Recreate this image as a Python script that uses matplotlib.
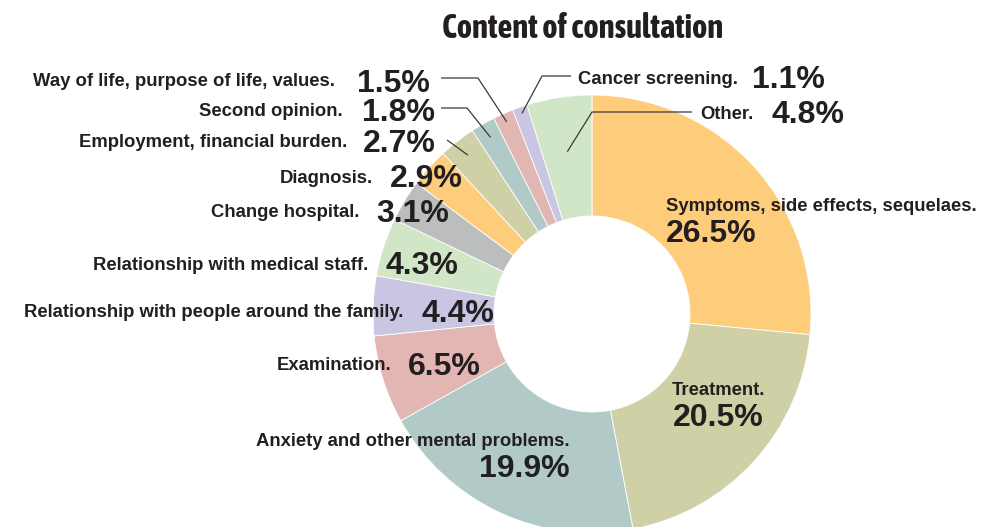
import numpy as np
import matplotlib.pyplot as plt
from matplotlib import font_manager

# Data (share of consultations, %), clockwise from 12 o'clock
categories = [
    'Symptoms, side effects, sequelaes.',
    'Treatment.',
    'Anxiety and other mental problems.',
    'Examination.',
    'Relationship with people around the family.',
    'Relationship with medical staff.',
    'Change hospital.',
    'Diagnosis.',
    'Employment, financial burden.',
    'Second opinion.',
    'Way of life, purpose of life, values.',
    'Cancer screening.',
    'Other.',
]
shares = [26.5, 20.5, 19.9, 6.5, 4.4, 4.3, 3.1, 2.9, 2.7, 1.8, 1.5, 1.1, 4.8]
pct_labels = ['26.5%', '20.5%', '19.9%', '6.5%', '4.4%', '4.3%', '3.1%',
              '2.9%', '2.7%', '1.8%', '1.5%', '1.1%', '4.8%']
colors = ['#FDCD7C', '#CFD0A6', '#B2CAC7', '#E2B6B3', '#C9C5E2', '#D0E6C6',
          '#BCBDBF', '#FDCD7C', '#CFD0A6', '#B2CAC7', '#E2B6B3', '#C9C5E2',
          '#D0E6C6']

TXT = '#231F20'
LABEL_FONT = ['Liberation Sans', 'DejaVu Sans']


def weight_num(w):
    if isinstance(w, (int, float)):
        return w
    return font_manager.weight_dict.get(str(w).lower(), 400)


# the title is set in a condensed bold face; use one if installed with a bold cut
narrow = sorted({f.name for f in font_manager.fontManager.ttflist
                 if ('Narrow' in f.name or 'Condensed' in f.name)
                 and weight_num(f.weight) >= 600})
TITLE_FONT = narrow[:1] + ['Liberation Sans', 'DejaVu Sans']

# Pixel layout (y grows downward)
CX, CY = 592, 314
R_OUT, R_IN = 219, 98

# label layout: (mode, align, label x, label baseline, pct x, pct baseline)
layout = {
    0: ('stack', 'left', 666, 211, 666, 242),
    1: ('stack', 'center', 718, 395, 718, 426),
    2: ('stack', 'right', 570, 446, 570, 477),
    3: ('side', None, 391, 370, 408, 375),
    4: ('side', None, 403, 317, 421, 322),
    5: ('side', None, 368, 270, 386, 274),
    6: ('side', None, 359, 217, 376, 222),
    7: ('side', None, 373, 183, 390, 187),
    8: ('side', None, 347, 147, 363, 152),
    9: ('side', None, 343, 116, 362, 121),
    10: ('side', None, 335, 86, 357, 92),
    11: ('right', None, 578, 84, 752, 88),
    12: ('right', None, 700, 119, 772, 123),
}

# leader lines: index -> (start x, start y, elbow x or None, radius fraction)
leaders = {
    10: (441, 78, 478, 0.96),
    9: (441, 108, 467, 0.93),
    8: (447, 140, None, 0.92),
    11: (571, 76, 542, 0.97),
    12: (692, 112, 592, 0.75),
}

fig = plt.figure(figsize=(9.92, 5.27), dpi=100)
ax = fig.add_axes([0, 0, 1, 1])

wedges, _ = ax.pie(shares, colors=colors, startangle=-90, counterclock=True,
                   radius=R_OUT, center=(CX, CY),
                   wedgeprops=dict(width=R_OUT - R_IN, edgecolor='white',
                                   linewidth=0.6))

ax.set_xlim(0, 992)
ax.set_ylim(527, 0)
ax.set_aspect('equal')
ax.axis('off')

title = ax.text(583, 38, 'Content of consultation', ha='center',
                va='baseline', fontsize=23.5, fontweight='bold', color=TXT,
                family=TITLE_FONT)
# keep the title about 300 px wide, as in the original
renderer = fig.canvas.get_renderer()
tw = title.get_window_extent(renderer).width
if tw > 305:
    title.set_fontsize(23.5 * 300 / tw)

for i, (mode, align, lx, ly, px, py) in layout.items():
    if mode == 'side':
        la, pa = 'right', 'left'
    elif mode == 'right':
        la, pa = 'left', 'left'
    else:
        la, pa = align, align
    ax.text(lx, ly, categories[i], ha=la, va='baseline',
            fontsize=13.3, fontweight='bold', color=TXT, family=LABEL_FONT)
    ax.text(px, py, pct_labels[i], ha=pa, va='baseline',
            fontsize=23, fontweight='bold', color=TXT, family=LABEL_FONT)

# leader lines end inside the wedge, along its mid angle
for i, (sx, sy, ex, frac) in leaders.items():
    w = wedges[i]
    mid = np.deg2rad((w.theta1 + w.theta2) / 2)
    tx = CX + R_OUT * frac * np.cos(mid)
    ty = CY + R_OUT * frac * np.sin(mid)
    if ex is None:
        xs, ys = [sx, tx], [sy, ty]
    else:
        xs, ys = [sx, ex, tx], [sy, sy, ty]
    ax.plot(xs, ys, color='#3a3a3a', lw=0.9, solid_capstyle='butt')

fig.savefig('out.png', dpi=100)
